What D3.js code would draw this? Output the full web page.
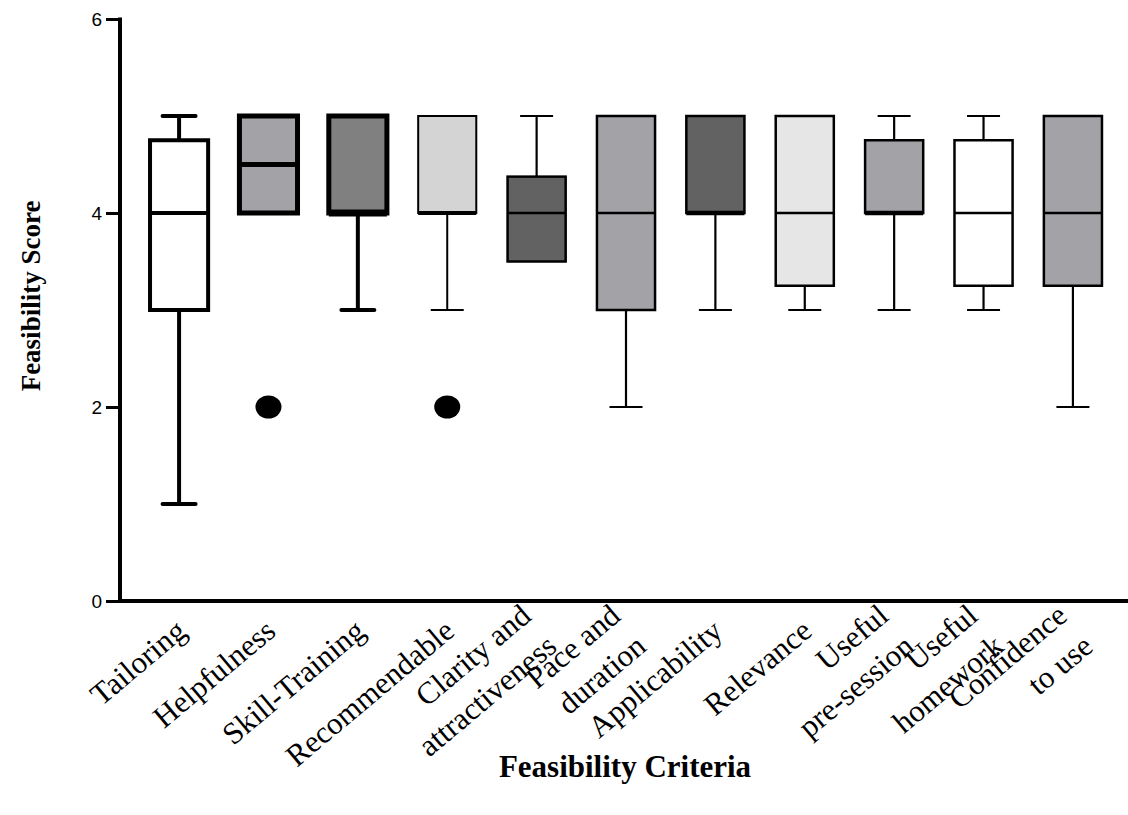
<!DOCTYPE html>
<meta charset="utf-8">
<style>
  body { margin: 0; background: #fff; }
  .tick text { font-family: "Liberation Sans", Arial, sans-serif; font-size: 19px; }
  .xlabel { font-family: "Liberation Serif", "Times New Roman", serif; font-size: 31px; }
  .title { font-family: "Liberation Serif", "Times New Roman", serif; font-weight: bold; }
</style>
<svg width="1128" height="815"></svg>
<script src="https://cdn.jsdelivr.net/npm/d3@7"></script>
<script>

  // data
  var categories = [
    ["Tailoring"], ["Helpfulness"], ["Skill-Training"], ["Recommendable"],
    ["Clarity and", "attractiveness"], ["Pace and", "duration"], ["Applicability"],
    ["Relevance"], ["Useful", "pre-session"], ["Useful", "homework"], ["Confidence", "to use"]
  ];
  var mins    = [1, 4, 3, 3, 3.5, 2, 3, 3, 3, 3, 2];
  var q1s     = [3, 4, 4, 4, 3.5, 3, 4, 3.25, 4, 3.25, 3.25];
  var medians = [4, 4.5, 4, 4, 4, 4, 4, 4, 4, 4, 4];
  var q3s     = [4.75, 5, 5, 5, 4.375, 5, 5, 5, 4.75, 4.75, 5];
  var maxs    = [5, 5, 5, 5, 5, 5, 5, 5, 5, 5, 5];
  var outliers = [[], [2], [], [2], [], [], [], [], [], [], []];
  var yTicks = [0, 2, 4, 6];

  // styles
  var fills = ["#ffffff", "#a3a2a7", "#808080", "#d4d4d4", "#626262", "#a3a2a7",
               "#626262", "#e6e6e6", "#a3a2a7", "#ffffff", "#a3a2a7"];
  var boxStroke = [4, 5, 5, 2, 2.5, 2.5, 2.5, 2.5, 2.5, 2.5, 2.5];
  var whiskStroke = [4, 4, 4, 2, 2.2, 2.2, 2.2, 2.2, 2.2, 2.2, 2.2];

  var svg = d3.select("svg");
  var x0 = 120, x1 = 1132, yTop = 19, yBot = 601;

  var x = d3.scaleBand()
      .domain(d3.range(categories.length))
      .range([x0, x1])
      .paddingInner(0.35)
      .paddingOuter(0.336);
  var y = d3.scaleLinear().domain([0, 6]).range([yBot, yTop]);

  var bw = x.bandwidth();
  var capW = 33;

  var data = categories.map(function(c, i) {
    return { i: i, min: mins[i], q1: q1s[i], med: medians[i], q3: q3s[i], max: maxs[i], out: outliers[i] };
  });

  var g = svg.selectAll("g.box")
    .data(data)
    .enter().append("g")
      .attr("class", "box");

  g.each(function(d) {
    var el = d3.select(this);
    var cx = x(d.i) + bw / 2;
    var sw = whiskStroke[d.i];
    var cap = sw > 3 ? "round" : "butt";
    // whiskers
    if (d.max > d.q3) {
      el.append("line").attr("x1", cx).attr("x2", cx).attr("y1", y(d.q3)).attr("y2", y(d.max))
        .attr("stroke", "#000").attr("stroke-width", sw);
      el.append("line").attr("x1", cx - capW / 2).attr("x2", cx + capW / 2).attr("y1", y(d.max)).attr("y2", y(d.max))
        .attr("stroke", "#000").attr("stroke-width", sw).attr("stroke-linecap", cap);
    }
    if (d.min < d.q1) {
      el.append("line").attr("x1", cx).attr("x2", cx).attr("y1", y(d.q1)).attr("y2", y(d.min))
        .attr("stroke", "#000").attr("stroke-width", sw);
      el.append("line").attr("x1", cx - capW / 2).attr("x2", cx + capW / 2).attr("y1", y(d.min)).attr("y2", y(d.min))
        .attr("stroke", "#000").attr("stroke-width", sw).attr("stroke-linecap", cap);
    }
    // box
    el.append("rect")
      .attr("x", x(d.i))
      .attr("width", bw)
      .attr("y", y(d.q3))
      .attr("height", y(d.q1) - y(d.q3))
      .attr("fill", fills[d.i])
      .attr("stroke", "#000")
      .attr("stroke-width", boxStroke[d.i]);
    // median
    el.append("line")
      .attr("x1", x(d.i)).attr("x2", x(d.i) + bw)
      .attr("y1", y(d.med)).attr("y2", y(d.med))
      .attr("stroke", "#000")
      .attr("stroke-width", d.med === d.q1 ? boxStroke[d.i] + 2 : boxStroke[d.i]);
    // outliers
    el.selectAll("ellipse")
      .data(d.out)
      .enter().append("ellipse")
        .attr("cx", cx)
        .attr("cy", function(v) { return y(v); })
        .attr("rx", 13)
        .attr("ry", 11.5)
        .attr("fill", "#000");
  });

  // axes
  var yAxis = svg.append("g")
      .attr("transform", "translate(" + x0 + ",0)")
      .call(d3.axisLeft(y).tickValues(yTicks).tickFormat(d3.format("d")).tickSize(14).tickPadding(4));
  yAxis.select(".domain").remove();
  yAxis.selectAll(".tick line").attr("stroke-width", 3);
  yAxis.selectAll(".tick text").attr("fill", "#000");

  svg.append("line")
      .attr("x1", x0).attr("x2", x0)
      .attr("y1", yTop - 1.5).attr("y2", yBot + 2)
      .attr("stroke", "#000").attr("stroke-width", 4);
  svg.append("line")
      .attr("x1", x0 - 2).attr("x2", 1128)
      .attr("y1", yBot).attr("y2", yBot)
      .attr("stroke", "#000").attr("stroke-width", 4);

  // category labels, rotated, multi-line blocks centred on the anchor
  var angle = 40, lineGap = 40;
  var lab = svg.selectAll("text.xlabel")
    .data(data)
    .enter().append("text")
      .attr("class", "xlabel")
      .attr("text-anchor", "end")
      .attr("transform", function(d) {
        return "translate(" + (x(d.i) + bw / 2 + 9) + "," + 634 + ") rotate(" + (-angle) + ")";
      });
  lab.selectAll("tspan")
    .data(function(d) {
      var lines = categories[d.i];
      return lines.map(function(t, j) { return { t: t, off: (j - (lines.length - 1) / 2) * lineGap }; });
    })
    .enter().append("tspan")
      .attr("x", 0)
      .attr("y", function(l) { return l.off; })
      .text(function(l) { return l.t; });

  svg.append("text")
      .attr("class", "title")
      .attr("text-anchor", "middle")
      .attr("x", 625)
      .attr("y", 777)
      .style("font-size", "31px")
      .text("Feasibility Criteria");

  svg.append("text")
      .attr("class", "title")
      .attr("text-anchor", "middle")
      .attr("transform", "translate(40,296) rotate(-90)")
      .style("font-size", "27px")
      .text("Feasibility Score");

</script>
